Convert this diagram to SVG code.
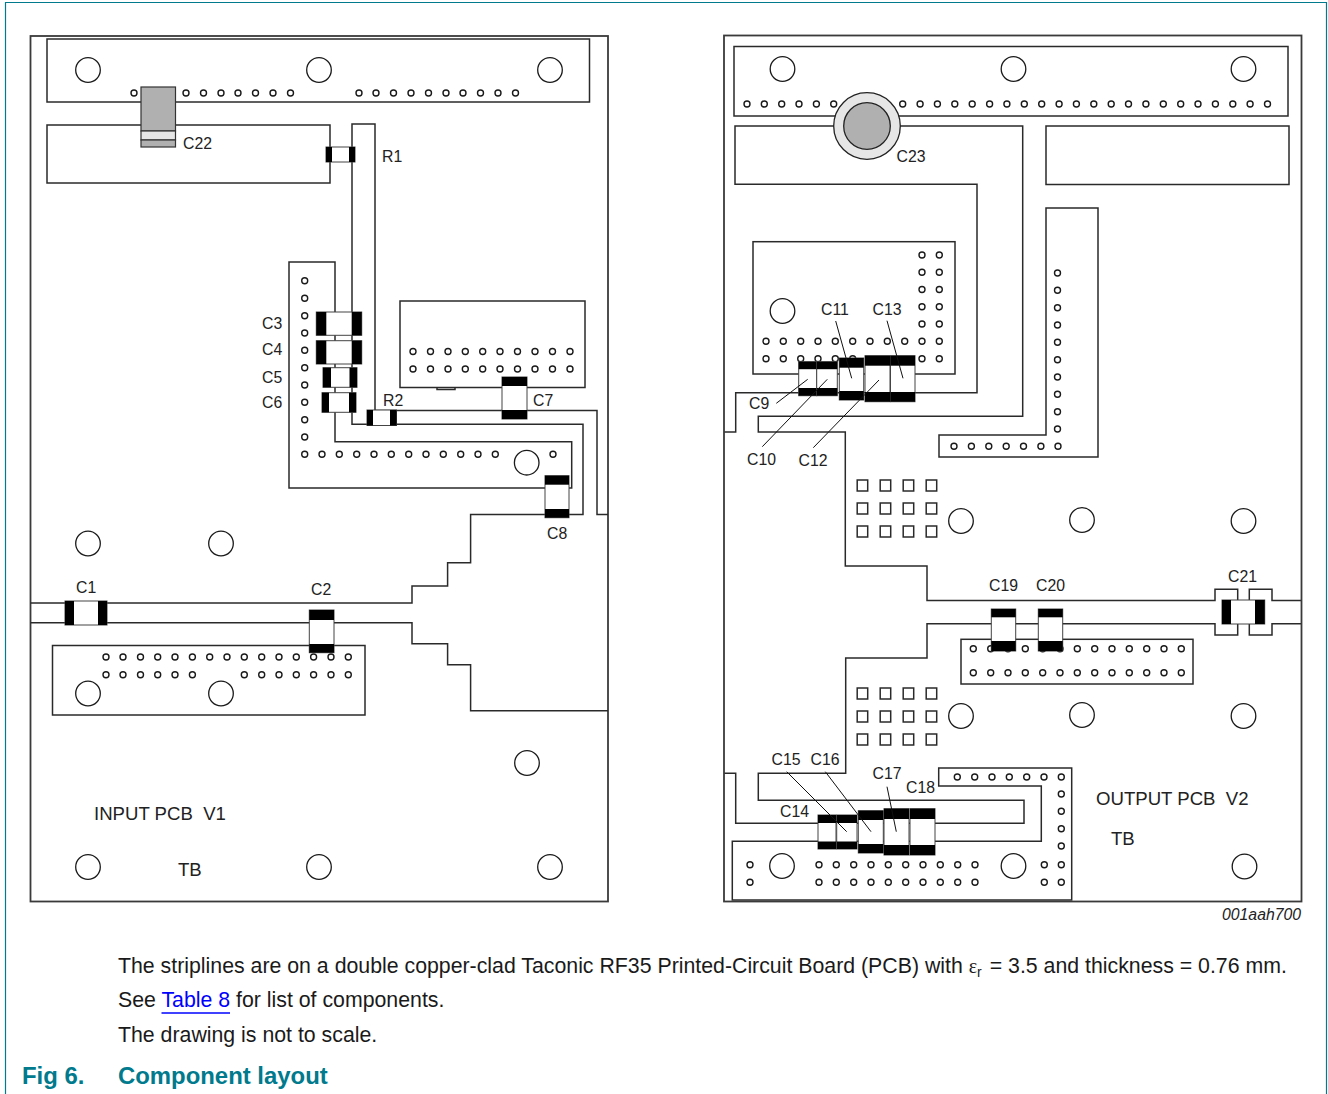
<svg xmlns="http://www.w3.org/2000/svg" width="1328" height="1094" viewBox="0 0 1328 1094">
<style>
text{font-family:"Liberation Sans",Arial,sans-serif;fill:#222;font-size:15.8px;white-space:pre}
.b{fill:#fff;stroke:#2a2a2a;stroke-width:1.5}
.l{fill:none;stroke:#2a2a2a;stroke-width:1.5}
.e{fill:none;stroke:#3a3a3a;stroke-width:1.8}
.h{fill:#fff;stroke:#1a1a1a;stroke-width:1.4}
.big{fill:#fff;stroke:#1a1a1a;stroke-width:1.3}
.c{fill:#fff;stroke:#444;stroke-width:1}
.k{fill:#000}
.ld{fill:none;stroke:#111;stroke-width:1}
.t{font-size:18.6px}
.p{font-size:21.3px;fill:#1a1a1a}
.f{font-size:23.9px;font-weight:bold;fill:#007a8c}
</style>
<defs>
<circle id="o" r="3" class="h"/>
<circle id="O" r="12.3" class="big"/>
<rect id="s" width="10.5" height="11" class="b"/>
</defs>
<g id="frame"><path d="M5.5 1094V2.5H1326.5V1094" fill="none" stroke="#007a8c" stroke-width="1.2"/></g>

<g id="input-board">
<rect class="e" x="30.5" y="36" width="577.5" height="865.5"/>
<rect class="b" x="47" y="39" width="542.5" height="63"/>
<rect class="b" x="47" y="125" width="283" height="58"/>
<path class="b" d="M289 262H335V441.7H571.7V488H289Z"/>
<rect class="b" x="400" y="301" width="185" height="86.5"/>
<path class="l" d="M437 387.5V389.5H455V387.5"/>
<rect class="b" x="52.5" y="645.5" width="312.5" height="69.5"/>
</g>
<g id="connectors">
<path class="l" d="M352 183V124H375V410.5H597V514.5H608"/>
<path class="l" d="M352 183V424.3H583V514.5H470.6V562.7H447.6V586H412V603H30.5"/>
<path class="l" d="M30.5 622.7H412V643.7H447.6V664.7H470.6V710.7H608"/>
<path class="l" d="M724 432H735.7V392.7H977V184.3H735V126H1022.7V416.3H758.3V432H845.3V566H927V600.5H1215V589.3H1237.7V635H1215V623.7H927V658H845.7V773.3H758.3V800.3H1024V823.3H735.7V773.3H724"/>
<path class="l" d="M1301 600.5H1272V589.3H1249.3V635H1272V623.7H1301"/>
<path class="b" d="M732.3 841.3H1041.3V786H938.7V768H1071.7V900H732.3Z"/>
<path class="b" d="M1046 208H1098V457H939V435H1046Z"/>
<rect class="b" x="1046" y="126" width="243" height="58.5"/>
<rect class="b" x="753" y="241.7" width="202" height="132.3"/>
<rect class="b" x="961" y="639.3" width="232" height="44.7"/>
<rect class="b" x="734" y="46.5" width="554" height="69.5"/>
</g>
<g id="output-board"><rect x="724" y="35.5" width="577.5" height="866" class="e"/></g>

<g id="holes-left">
<use href="#O" x="88" y="70"/><use href="#O" x="319" y="70"/><use href="#O" x="550" y="70"/>
<use href="#o" x="134" y="93"/><use href="#o" x="186" y="93"/><use href="#o" x="203.5" y="93"/><use href="#o" x="221" y="93"/><use href="#o" x="238" y="93"/><use href="#o" x="255.5" y="93"/><use href="#o" x="273" y="93"/><use href="#o" x="290.5" y="93"/>
<use href="#o" x="359" y="93"/><use href="#o" x="376" y="93"/><use href="#o" x="393.5" y="93"/><use href="#o" x="411" y="93"/><use href="#o" x="428.5" y="93"/><use href="#o" x="446" y="93"/><use href="#o" x="463" y="93"/><use href="#o" x="480.5" y="93"/><use href="#o" x="498" y="93"/><use href="#o" x="515.5" y="93"/>
<use href="#o" x="304.7" y="280.7"/><use href="#o" x="304.7" y="298.3"/><use href="#o" x="304.7" y="315.7"/><use href="#o" x="304.7" y="333"/><use href="#o" x="304.7" y="350.3"/><use href="#o" x="304.7" y="367.7"/><use href="#o" x="304.7" y="385"/><use href="#o" x="304.7" y="402.3"/><use href="#o" x="304.7" y="419.7"/><use href="#o" x="304.7" y="437"/>
<use href="#o" x="304.7" y="454.3"/><use href="#o" x="322" y="454.3"/><use href="#o" x="339.3" y="454.3"/><use href="#o" x="356.7" y="454.3"/><use href="#o" x="374" y="454.3"/><use href="#o" x="391.3" y="454.3"/><use href="#o" x="408.7" y="454.3"/><use href="#o" x="426" y="454.3"/><use href="#o" x="443.3" y="454.3"/><use href="#o" x="460.7" y="454.3"/><use href="#o" x="478" y="454.3"/><use href="#o" x="495.3" y="454.3"/><use href="#o" x="553" y="454.3"/>
<use href="#O" x="526.7" y="462.7"/>
<use href="#o" x="413" y="351.5"/><use href="#o" x="430.5" y="351.5"/><use href="#o" x="448" y="351.5"/><use href="#o" x="465.3" y="351.5"/><use href="#o" x="482.7" y="351.5"/><use href="#o" x="500" y="351.5"/><use href="#o" x="517.5" y="351.5"/><use href="#o" x="535" y="351.5"/><use href="#o" x="552.5" y="351.5"/><use href="#o" x="570" y="351.5"/>
<use href="#o" x="413" y="369"/><use href="#o" x="430.5" y="369"/><use href="#o" x="448" y="369"/><use href="#o" x="465.3" y="369"/><use href="#o" x="482.7" y="369"/><use href="#o" x="500" y="369"/><use href="#o" x="517.5" y="369"/><use href="#o" x="535" y="369"/><use href="#o" x="552.5" y="369"/><use href="#o" x="570" y="369"/>
<use href="#O" x="88" y="543.5"/><use href="#O" x="221" y="543.5"/><use href="#O" x="88" y="693.5"/><use href="#O" x="221" y="693.5"/><use href="#O" x="527" y="763"/><use href="#O" x="88" y="867"/><use href="#O" x="319" y="867"/><use href="#O" x="550" y="867"/>
<use href="#o" x="106" y="657"/><use href="#o" x="123" y="657"/><use href="#o" x="140.5" y="657"/><use href="#o" x="157.7" y="657"/><use href="#o" x="175" y="657"/><use href="#o" x="192.4" y="657"/><use href="#o" x="209.7" y="657"/><use href="#o" x="227" y="657"/><use href="#o" x="244.3" y="657"/><use href="#o" x="261.7" y="657"/><use href="#o" x="279" y="657"/><use href="#o" x="296.3" y="657"/><use href="#o" x="313.6" y="657"/><use href="#o" x="331" y="657"/><use href="#o" x="348.3" y="657"/>
<use href="#o" x="106" y="674.7"/><use href="#o" x="123" y="674.7"/><use href="#o" x="140.5" y="674.7"/><use href="#o" x="157.7" y="674.7"/><use href="#o" x="175" y="674.7"/><use href="#o" x="192.4" y="674.7"/><use href="#o" x="244.3" y="674.7"/><use href="#o" x="261.7" y="674.7"/><use href="#o" x="279" y="674.7"/><use href="#o" x="296.3" y="674.7"/><use href="#o" x="313.6" y="674.7"/><use href="#o" x="331" y="674.7"/><use href="#o" x="348.3" y="674.7"/>
</g>

<g id="holes-right">
<use href="#O" x="782.5" y="69"/><use href="#O" x="1013.5" y="69"/><use href="#O" x="1243.5" y="69"/>
<use href="#o" x="747" y="104"/><use href="#o" x="764.3" y="104"/><use href="#o" x="781.7" y="104"/><use href="#o" x="799" y="104"/><use href="#o" x="816.4" y="104"/><use href="#o" x="833.7" y="104"/>
<use href="#o" x="902.7" y="104"/><use href="#o" x="920.1" y="104"/><use href="#o" x="937.4" y="104"/><use href="#o" x="954.8" y="104"/><use href="#o" x="972.2" y="104"/><use href="#o" x="989.6" y="104"/><use href="#o" x="1006.9" y="104"/><use href="#o" x="1024.3" y="104"/><use href="#o" x="1041.7" y="104"/><use href="#o" x="1059.1" y="104"/><use href="#o" x="1076.4" y="104"/><use href="#o" x="1093.8" y="104"/><use href="#o" x="1111.2" y="104"/><use href="#o" x="1128.5" y="104"/><use href="#o" x="1145.9" y="104"/><use href="#o" x="1163.3" y="104"/><use href="#o" x="1180.7" y="104"/><use href="#o" x="1198" y="104"/><use href="#o" x="1215.4" y="104"/><use href="#o" x="1232.8" y="104"/><use href="#o" x="1250.1" y="104"/><use href="#o" x="1267.5" y="104"/>
<use href="#O" x="782.5" y="311"/>
<use href="#o" x="922" y="255"/><use href="#o" x="939.3" y="255"/><use href="#o" x="922" y="272.3"/><use href="#o" x="939.3" y="272.3"/><use href="#o" x="922" y="289.5"/><use href="#o" x="939.3" y="289.5"/><use href="#o" x="922" y="306.7"/><use href="#o" x="939.3" y="306.7"/><use href="#o" x="922" y="324"/><use href="#o" x="939.3" y="324"/>
<use href="#o" x="766" y="341.3"/><use href="#o" x="783.3" y="341.3"/><use href="#o" x="800.7" y="341.3"/><use href="#o" x="818" y="341.3"/><use href="#o" x="835.3" y="341.3"/><use href="#o" x="852.7" y="341.3"/><use href="#o" x="870" y="341.3"/><use href="#o" x="887.3" y="341.3"/><use href="#o" x="904.7" y="341.3"/><use href="#o" x="922" y="341.3"/><use href="#o" x="939.3" y="341.3"/>
<use href="#o" x="766" y="358.7"/><use href="#o" x="783.3" y="358.7"/><use href="#o" x="800.7" y="358.7"/><use href="#o" x="818" y="358.7"/><use href="#o" x="835.3" y="358.7"/><use href="#o" x="852.7" y="358.7"/><use href="#o" x="922" y="358.7"/><use href="#o" x="939.3" y="358.7"/>
<use href="#o" x="1057.5" y="273"/><use href="#o" x="1057.5" y="290.3"/><use href="#o" x="1057.5" y="307.7"/><use href="#o" x="1057.5" y="325"/><use href="#o" x="1057.5" y="342.3"/><use href="#o" x="1057.5" y="359.7"/><use href="#o" x="1057.5" y="377"/><use href="#o" x="1057.5" y="394.3"/><use href="#o" x="1057.5" y="411.7"/><use href="#o" x="1057.5" y="429"/>
<use href="#o" x="954" y="446.3"/><use href="#o" x="971.4" y="446.3"/><use href="#o" x="988.8" y="446.3"/><use href="#o" x="1006.2" y="446.3"/><use href="#o" x="1023.5" y="446.3"/><use href="#o" x="1040.9" y="446.3"/><use href="#o" x="1058" y="446.3"/>
<use href="#O" x="961" y="521"/><use href="#O" x="1082" y="520"/><use href="#O" x="1243.5" y="521"/><use href="#O" x="961" y="716"/><use href="#O" x="1082" y="715"/><use href="#O" x="1243.5" y="716"/>
<use href="#s" x="857.2" y="480"/><use href="#s" x="880.2" y="480"/><use href="#s" x="903.2" y="480"/><use href="#s" x="926.2" y="480"/><use href="#s" x="857.2" y="503"/><use href="#s" x="880.2" y="503"/><use href="#s" x="903.2" y="503"/><use href="#s" x="926.2" y="503"/><use href="#s" x="857.2" y="526"/><use href="#s" x="880.2" y="526"/><use href="#s" x="903.2" y="526"/><use href="#s" x="926.2" y="526"/>
<use href="#s" x="857.2" y="688"/><use href="#s" x="880.2" y="688"/><use href="#s" x="903.2" y="688"/><use href="#s" x="926.2" y="688"/><use href="#s" x="857.2" y="711"/><use href="#s" x="880.2" y="711"/><use href="#s" x="903.2" y="711"/><use href="#s" x="926.2" y="711"/><use href="#s" x="857.2" y="734"/><use href="#s" x="880.2" y="734"/><use href="#s" x="903.2" y="734"/><use href="#s" x="926.2" y="734"/>
<use href="#o" x="973.3" y="648.7"/><use href="#o" x="990.7" y="648.7"/><use href="#o" x="1008" y="648.7"/><use href="#o" x="1025.3" y="648.7"/><use href="#o" x="1042.7" y="648.7"/><use href="#o" x="1060" y="648.7"/><use href="#o" x="1077.3" y="648.7"/><use href="#o" x="1094.7" y="648.7"/><use href="#o" x="1112" y="648.7"/><use href="#o" x="1129.3" y="648.7"/><use href="#o" x="1146.7" y="648.7"/><use href="#o" x="1164" y="648.7"/><use href="#o" x="1181.3" y="648.7"/>
<use href="#o" x="973.3" y="672.7"/><use href="#o" x="990.7" y="672.7"/><use href="#o" x="1008" y="672.7"/><use href="#o" x="1025.3" y="672.7"/><use href="#o" x="1042.7" y="672.7"/><use href="#o" x="1060" y="672.7"/><use href="#o" x="1077.3" y="672.7"/><use href="#o" x="1094.7" y="672.7"/><use href="#o" x="1112" y="672.7"/><use href="#o" x="1129.3" y="672.7"/><use href="#o" x="1146.7" y="672.7"/><use href="#o" x="1164" y="672.7"/><use href="#o" x="1181.3" y="672.7"/>
<use href="#o" x="957.3" y="777"/><use href="#o" x="974.7" y="777"/><use href="#o" x="992" y="777"/><use href="#o" x="1009.3" y="777"/><use href="#o" x="1026.7" y="777"/><use href="#o" x="1044" y="777"/><use href="#o" x="1061.3" y="777"/>
<use href="#o" x="1061.3" y="794"/><use href="#o" x="1061.3" y="811.3"/><use href="#o" x="1061.3" y="828.7"/><use href="#o" x="1061.3" y="846"/>
<use href="#o" x="750" y="864.7"/><use href="#o" x="819" y="864.7"/><use href="#o" x="836.3" y="864.7"/><use href="#o" x="853.7" y="864.7"/><use href="#o" x="871" y="864.7"/><use href="#o" x="888.3" y="864.7"/><use href="#o" x="905.7" y="864.7"/><use href="#o" x="923" y="864.7"/><use href="#o" x="940.3" y="864.7"/><use href="#o" x="957.7" y="864.7"/><use href="#o" x="975" y="864.7"/><use href="#o" x="1044.3" y="864.7"/><use href="#o" x="1061.3" y="864.7"/>
<use href="#o" x="750" y="882.3"/><use href="#o" x="819" y="882.3"/><use href="#o" x="836.3" y="882.3"/><use href="#o" x="853.7" y="882.3"/><use href="#o" x="871" y="882.3"/><use href="#o" x="888.3" y="882.3"/><use href="#o" x="905.7" y="882.3"/><use href="#o" x="923" y="882.3"/><use href="#o" x="940.3" y="882.3"/><use href="#o" x="957.7" y="882.3"/><use href="#o" x="975" y="882.3"/><use href="#o" x="1044.3" y="882.3"/><use href="#o" x="1061.3" y="882.3"/>
<use href="#O" x="782" y="866"/><use href="#O" x="1013.5" y="866"/><use href="#O" x="1244.5" y="866.5"/>
</g>

<g id="C22"><rect x="141" y="87" width="34.5" height="44" fill="#b0b0b0" stroke="#333" stroke-width="1.2"/><rect x="141" y="131" width="34.5" height="9" fill="#e6e6e6" stroke="#333" stroke-width="1.2"/><rect x="141" y="140" width="34.5" height="7" fill="#b0b0b0" stroke="#333" stroke-width="1.2"/><text x="183" y="149">C22</text></g>
<g id="R1"><rect class="c" x="326" y="147" width="29" height="15"/><rect class="k" x="326" y="147" width="6" height="15"/><rect class="k" x="349" y="147" width="6" height="15"/><text x="382" y="162">R1</text></g>
<g id="C3"><rect class="c" x="316.3" y="312" width="45.4" height="23.3"/><rect class="k" x="316.3" y="312" width="10" height="23.3"/><rect class="k" x="351.7" y="312" width="10" height="23.3"/><text x="262" y="329">C3</text></g>
<g id="C4"><rect class="c" x="316.3" y="340.7" width="45.4" height="23.3"/><rect class="k" x="316.3" y="340.7" width="10" height="23.3"/><rect class="k" x="351.7" y="340.7" width="10" height="23.3"/><text x="262" y="355">C4</text></g>
<g id="C5"><rect class="c" x="323" y="367.7" width="34" height="19.6"/><rect class="k" x="323" y="367.7" width="8" height="19.6"/><rect class="k" x="349.5" y="367.7" width="7.5" height="19.6"/><text x="262" y="383">C5</text></g>
<g id="C6"><rect class="c" x="322" y="392.7" width="34" height="19.6"/><rect class="k" x="322" y="392.7" width="7" height="19.6"/><rect class="k" x="349" y="392.7" width="7" height="19.6"/><text x="262" y="408">C6</text></g>
<g id="R2"><rect class="c" x="367" y="410" width="29.5" height="15.5"/><rect class="k" x="367" y="410" width="6" height="15.5"/><rect class="k" x="390" y="410" width="6.5" height="15.5"/><text x="383" y="406">R2</text></g>
<g id="C7"><rect class="c" x="502" y="377" width="25" height="42"/><rect class="k" x="502" y="377" width="25" height="9"/><rect class="k" x="502" y="410" width="25" height="9"/><text x="533" y="406">C7</text></g>
<g id="C8"><rect class="c" x="545" y="475.7" width="24" height="42"/><rect class="k" x="545" y="475.7" width="24" height="9"/><rect class="k" x="545" y="509" width="24" height="8.7"/><text x="547" y="539">C8</text></g>
<g id="C1"><rect class="c" x="65" y="601" width="42" height="24"/><rect class="k" x="65" y="601" width="9" height="24"/><rect class="k" x="98" y="601" width="9" height="24"/><text x="76" y="593">C1</text></g>
<g id="C2"><rect class="c" x="309.3" y="610" width="24.7" height="42.7"/><rect class="k" x="309.3" y="610" width="24.7" height="10"/><rect class="k" x="309.3" y="644" width="24.7" height="8.7"/><text x="311" y="595">C2</text></g>

<g id="C23"><circle cx="867" cy="126" r="33.3" fill="#e6e6e6" stroke="#222" stroke-width="1.3"/><circle cx="867" cy="126" r="23.3" fill="#b0b0b0" stroke="#222" stroke-width="1.3"/><text x="896.5" y="162">C23</text></g>
<g id="C9"><rect class="c" x="798.7" y="361.7" width="18" height="34"/><rect class="k" x="798.7" y="361.7" width="18" height="7.5"/><rect class="k" x="798.7" y="388" width="18" height="7.7"/><text x="749" y="409">C9</text></g>
<g id="C10"><rect class="c" x="816.7" y="361.7" width="20.6" height="34"/><rect class="k" x="816.7" y="361.7" width="20.6" height="7.5"/><rect class="k" x="816.7" y="388" width="20.6" height="7.7"/><text x="747" y="465">C10</text></g>
<g id="C11"><rect class="c" x="839.3" y="358" width="24.4" height="42"/><rect class="k" x="839.3" y="358" width="24.4" height="9.7"/><rect class="k" x="839.3" y="391" width="24.4" height="9"/><text x="821" y="315">C11</text></g>
<g id="C12"><rect class="c" x="865" y="355.7" width="25" height="46"/><rect class="k" x="865" y="355.7" width="25" height="10"/><rect class="k" x="865" y="392" width="25" height="9.7"/><text x="798.5" y="466">C12</text></g>
<g id="C13"><rect class="c" x="890.5" y="355.7" width="24.5" height="46"/><rect class="k" x="890.5" y="355.7" width="24.5" height="10"/><rect class="k" x="890.5" y="392" width="24.5" height="9.7"/><text x="872.5" y="314.5">C13</text></g>
<g id="C14"><rect class="c" x="818" y="815" width="18" height="34"/><rect class="k" x="818" y="815" width="18" height="8"/><rect class="k" x="818" y="841.5" width="18" height="7.5"/><text x="780" y="817">C14</text></g>
<g id="C15"><rect class="c" x="836.7" y="815" width="20.3" height="34"/><rect class="k" x="836.7" y="815" width="20.3" height="8"/><rect class="k" x="836.7" y="841.5" width="20.3" height="7.5"/><text x="771.5" y="765">C15</text></g>
<g id="C16"><rect class="c" x="858.3" y="810.7" width="25" height="42.3"/><rect class="k" x="858.3" y="810.7" width="25" height="9.3"/><rect class="k" x="858.3" y="844" width="25" height="9"/><text x="810.5" y="765">C16</text></g>
<g id="C17"><rect class="c" x="884" y="808.7" width="25" height="46.3"/><rect class="k" x="884" y="808.7" width="25" height="10.3"/><rect class="k" x="884" y="845" width="25" height="10"/><text x="872.5" y="779">C17</text></g>
<g id="C18"><rect class="c" x="910" y="808.7" width="25" height="46.3"/><rect class="k" x="910" y="808.7" width="25" height="10.3"/><rect class="k" x="910" y="845" width="25" height="10"/><text x="906" y="793">C18</text></g>
<g id="C19"><rect class="c" x="991.3" y="609" width="24.4" height="42"/><rect class="k" x="991.3" y="609" width="24.4" height="8.3"/><rect class="k" x="991.3" y="641" width="24.4" height="10"/><text x="989" y="591">C19</text></g>
<g id="C20"><rect class="c" x="1038.3" y="609" width="24.4" height="42"/><rect class="k" x="1038.3" y="609" width="24.4" height="8.3"/><rect class="k" x="1038.3" y="641" width="24.4" height="10"/><text x="1036" y="591">C20</text></g>
<g id="C21"><rect class="c" x="1222" y="600" width="42.7" height="24"/><rect class="k" x="1222" y="600" width="9" height="24"/><rect class="k" x="1255" y="600" width="9.7" height="24"/><text x="1228" y="582">C21</text></g>

<g id="leaders">
<path class="ld" d="M776.3 403.3L807.7 379.3M762.3 446.7L827.3 379.3M835.7 321L851.7 378.3M813.3 447.7L879 380M887 320.7L903 378.3"/>
<path class="ld" d="M786.7 771.7L846.7 831.7M825.3 771.7L871 831.7M887 786.7L896.3 831.7"/>
</g>

<g id="labels">
<text class="t" x="94" y="820">INPUT PCB  V1</text>
<text class="t" x="178" y="875.5">TB</text>
<text class="t" x="1096" y="804.5">OUTPUT PCB  V2</text>
<text class="t" x="1111" y="844.5">TB</text>
<text x="1222" y="920" font-style="italic">001aah700</text>
</g>
<g id="caption">
<text class="p" x="118" y="973">The striplines are on a double copper-clad Taconic RF35 Printed-Circuit Board (PCB) with <tspan font-family="Liberation Serif" font-size="20">ε</tspan><tspan font-size="14" dy="4">r</tspan><tspan dy="-4" dx="2"> = 3.5 and thickness = 0.76 mm.</tspan></text>
<text class="p" x="118" y="1007">See <tspan fill="#0000ff">Table 8</tspan> for list of components.</text>
<path d="M161.5 1013H230" stroke="#0000ff" stroke-width="1.6"/>
<text class="p" x="118" y="1042">The drawing is not to scale.</text>
<text class="f" x="22" y="1084">Fig 6.</text>
<text class="f" x="118" y="1084">Component layout</text>
</g>
</svg>
